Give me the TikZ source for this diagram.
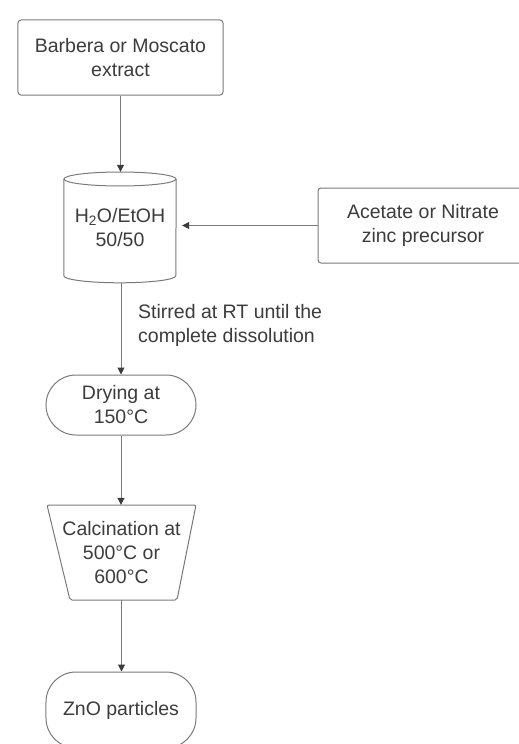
\documentclass[tikz,border=0pt]{standalone}
\usepackage{fontspec}
\setmainfont{Liberation Sans}
\usetikzlibrary{arrows.meta}
\definecolor{linegray}{HTML}{7A7A7A}
\definecolor{textgray}{HTML}{3C3C3C}
\begin{document}
\begin{tikzpicture}[x=1bp,y=-1bp,
  every node/.style={text=textgray, font=\fontsize{19.5bp}{24bp}\selectfont, align=center, inner sep=0pt},
  boxstyle/.style={draw=linegray, line width=1bp, rounded corners=3bp},
  pillstyle/.style={draw=linegray, line width=1bp, rounded corners=30bp},
  shapeline/.style={draw=linegray, line width=1bp},
  flow/.style={draw=linegray, line width=1bp, -{Triangle[width=7bp,length=7bp,color=textgray]}}
]
\useasboundingbox (0,0) rectangle (519,744);
\fill[white] (0,0) rectangle (519,744);

% nodes
\node[boxstyle, minimum width=205bp, minimum height=75bp] (ext) at (120.5,57.5) {Barbera or Moscato\\extract};
\node[minimum width=112bp, minimum height=111bp] (cyl) at (120,227.5) {H\textsubscript{2}O/EtOH\\50/50};
\node[boxstyle, minimum width=210bp, minimum height=75bp] (prec) at (423,225.5) {Acetate or Nitrate\\zinc precursor};
\node[pillstyle, minimum width=150bp, minimum height=60bp] (dry) at (121,405) {Drying at\\150°C};
\node[minimum width=149bp, minimum height=95bp] (calc) at (121.5,552.5) {Calcination at\\500°C or\\600°C};
\node[pillstyle, minimum width=150bp, minimum height=76bp] (zno) at (121,710) {ZnO particles};
\node[anchor=west, align=left] (stir) at (138,325) {Stirred at RT until the\\complete dissolution};

% cylinder
\draw[shapeline] (cyl.north west) ++(0,7) -- ++(0,97)
  arc[start angle=180, end angle=0, x radius=56, y radius=7] -- (cyl.north east |- 0,179);
\draw[shapeline] (120,179) ellipse[x radius=56, y radius=7];

% trapezoid
\draw[shapeline, rounded corners=2bp] (47,505) -- (196,505) -- (177,600) -- (70,600) -- cycle;

% connectors
\draw[flow] (ext.south) -- (ext.south |- cyl.north);
\coordinate (cylr) at ([xshift=6bp]cyl.east);
\draw[flow] (prec.west) -- (cylr |- prec.west);
\draw[flow] (cyl.south) ++(1,0) coordinate (cs) -- (cs |- dry.north);
\draw[flow] (dry.south) -- (dry.south |- calc.north);
\draw[flow] (calc.south) -- (calc.south |- zno.north);
\end{tikzpicture}
\end{document}
